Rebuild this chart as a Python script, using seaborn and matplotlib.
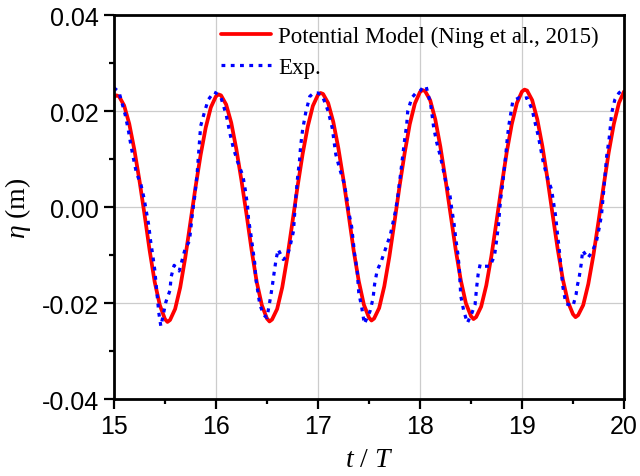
import matplotlib
matplotlib.use("Agg")
import matplotlib.pyplot as plt
from matplotlib.ticker import MultipleLocator, FormatStrFormatter
import pandas as pd
import seaborn as sns

# Potential model (red solid line)
t_model = [15.00, 15.025, 15.05, 15.10, 15.15, 15.20, 15.25, 15.30, 15.35, 15.40, 15.45,
           15.50, 15.525, 15.55, 15.60, 15.65, 15.70, 15.75, 15.80, 15.85, 15.90, 15.95,
           16.00, 16.025, 16.05, 16.10, 16.15, 16.20, 16.25, 16.30, 16.35, 16.40, 16.45,
           16.50, 16.525, 16.55, 16.60, 16.65, 16.70, 16.75, 16.80, 16.85, 16.90, 16.95,
           17.00, 17.025, 17.05, 17.10, 17.15, 17.20, 17.25, 17.30, 17.35, 17.40, 17.45,
           17.50, 17.525, 17.55, 17.60, 17.65, 17.70, 17.75, 17.80, 17.85, 17.90, 17.95,
           18.00, 18.025, 18.05, 18.10, 18.15, 18.20, 18.25, 18.30, 18.35, 18.40, 18.45,
           18.50, 18.525, 18.55, 18.60, 18.65, 18.70, 18.75, 18.80, 18.85, 18.90, 18.95,
           19.00, 19.025, 19.05, 19.10, 19.15, 19.20, 19.25, 19.30, 19.35, 19.40, 19.45,
           19.50, 19.525, 19.55, 19.60, 19.65, 19.70, 19.75, 19.80, 19.85, 19.90, 19.95,
           20.00]
eta_model = [0.0229, 0.0233, 0.0231, 0.0212, 0.0174, 0.0120, 0.0056, -0.0015, -0.0090, -0.0156, -0.0204,
             -0.0233, -0.0239, -0.0235, -0.0212, -0.0167, -0.0104, -0.0031, 0.0042, 0.0109, 0.0166, 0.0208,
             0.0231, 0.0235, 0.0233, 0.0214, 0.0176, 0.0121, 0.0056, -0.0015, -0.0090, -0.0156, -0.0204,
             -0.0232, -0.0238, -0.0234, -0.0212, -0.0167, -0.0104, -0.0031, 0.0043, 0.0111, 0.0168, 0.0211,
             0.0234, 0.0238, 0.0236, 0.0217, 0.0178, 0.0123, 0.0057, -0.0015, -0.0090, -0.0154, -0.0203,
             -0.0230, -0.0236, -0.0232, -0.0210, -0.0165, -0.0103, -0.0031, 0.0044, 0.0113, 0.0173, 0.0216,
             0.0240, 0.0244, 0.0242, 0.0223, 0.0183, 0.0126, 0.0058, -0.0015, -0.0088, -0.0152, -0.0200,
             -0.0227, -0.0233, -0.0229, -0.0207, -0.0163, -0.0102, -0.0030, 0.0044, 0.0114, 0.0173, 0.0217,
             0.0241, 0.0245, 0.0243, 0.0223, 0.0183, 0.0127, 0.0059, -0.0015, -0.0087, -0.0150, -0.0197,
             -0.0223, -0.0229, -0.0225, -0.0204, -0.0160, -0.0100, -0.0030, 0.0044, 0.0114, 0.0173, 0.0217,
             0.0241]

# Experiment (blue dotted line)
t_exp = [15.00, 15.05, 15.11, 15.14, 15.165, 15.19, 15.22, 15.265, 15.295, 15.32,
         15.34, 15.36, 15.38, 15.40, 15.42, 15.44, 15.46, 15.51, 15.55, 15.56,
         15.59, 15.64, 15.67, 15.70, 15.74, 15.77, 15.79, 15.815, 15.84, 15.85,
         15.89, 15.925, 15.98,
         16.00, 16.05, 16.10, 16.14, 16.17, 16.21, 16.265, 16.29, 16.31, 16.32,
         16.34, 16.36, 16.38, 16.39, 16.43, 16.47, 16.50, 16.53, 16.55, 16.57,
         16.59, 16.61, 16.66, 16.70, 16.73, 16.76, 16.78, 16.80, 16.82, 16.83,
         16.85, 16.88, 16.92, 16.96,
         17.00, 17.045, 17.10, 17.14, 17.175, 17.21, 17.255, 17.28, 17.30, 17.33,
         17.345, 17.36, 17.385, 17.40, 17.43, 17.455, 17.51, 17.54, 17.555, 17.58,
         17.62, 17.66, 17.71, 17.76, 17.78, 17.805, 17.83, 17.85, 17.87, 17.88,
         17.92, 17.96,
         18.00, 18.03, 18.06, 18.105, 18.135, 18.165, 18.20, 18.255, 18.295, 18.31,
         18.335, 18.35, 18.37, 18.385, 18.40, 18.43, 18.465, 18.51, 18.54, 18.555,
         18.57, 18.59, 18.63, 18.685, 18.73, 18.75, 18.77, 18.79, 18.81, 18.84,
         18.855, 18.87, 18.91, 18.97,
         19.00, 19.05, 19.10, 19.125, 19.16, 19.185, 19.21, 19.25, 19.29, 19.31,
         19.33, 19.345, 19.36, 19.375, 19.40, 19.43, 19.50, 19.53, 19.545, 19.56,
         19.58, 19.595, 19.645, 19.69, 19.73, 19.76, 19.78, 19.805, 19.83, 19.855,
         19.88, 19.91, 19.95, 19.99]
eta_exp = [0.0249, 0.0240, 0.0193, 0.0162, 0.0131, 0.0103, 0.0072, 0.0047, 0.0019, -0.0012,
           -0.0036, -0.0071, -0.0099, -0.0130, -0.0175, -0.0220, -0.0248, -0.0197, -0.0173, -0.0146,
           -0.0121, -0.0133, -0.0109, -0.0085, -0.0071, -0.0012, 0.0019, 0.0068, 0.0141, 0.0169,
           0.0200, 0.0224, 0.0240,
           0.0238, 0.0228, 0.0193, 0.0151, 0.0124, 0.0096, 0.0065, 0.0033, 0.0002, -0.0026,
           -0.0053, -0.0085, -0.0116, -0.0147, -0.0203, -0.0225, -0.0230, -0.0194, -0.0168, -0.0137,
           -0.0108, -0.0088, -0.0109, -0.0102, -0.0078, -0.0050, 0.0013, 0.0061, 0.0099, 0.0127,
           0.0162, 0.0197, 0.0231, 0.0238,
           0.0238, 0.0231, 0.0200, 0.0165, 0.0110, 0.0082, 0.0051, 0.0023, -0.0008, -0.0040,
           -0.0069, -0.0099, -0.0133, -0.0178, -0.0210, -0.0243, -0.0217, -0.0190, -0.0161, -0.0132,
           -0.0113, -0.0088, -0.0057, -0.0008, 0.0019, 0.0061, 0.0106, 0.0141, 0.0172, 0.0200,
           0.0228, 0.0238,
           0.0242, 0.0250, 0.0252, 0.0214, 0.0165, 0.0134, 0.0106, 0.0051, 0.0023, -0.0001,
           -0.0036, -0.0064, -0.0095, -0.0126, -0.0185, -0.0217, -0.0241, -0.0220, -0.0203, -0.0168,
           -0.0140, -0.0119, -0.0123, -0.0123, -0.0102, -0.0071, -0.0036, 0.0016, 0.0047, 0.0106,
           0.0141, 0.0169, 0.0221, 0.0228,
           0.0226, 0.0228, 0.0203, 0.0179, 0.0148, 0.0120, 0.0092, 0.0061, 0.0037, 0.0009,
           -0.0019, -0.0050, -0.0078, -0.0109, -0.0165, -0.0201, -0.0206, -0.0182, -0.0161, -0.0147,
           -0.0119, -0.0090, -0.0106, -0.0092, -0.0071, -0.0040, -0.0015, 0.0044, 0.0106, 0.0144,
           0.0197, 0.0224, 0.0238, 0.0245]

model_df = pd.DataFrame({"t": t_model, "eta": eta_model})
exp_df = pd.DataFrame({"t": t_exp, "eta": eta_exp})

sns.set_style("ticks")
plt.rcParams["font.family"] = ["Liberation Sans", "DejaVu Sans"]
plt.rcParams["axes.unicode_minus"] = False
plt.rcParams["mathtext.fontset"] = "custom"
plt.rcParams["mathtext.rm"] = "Liberation Serif"
plt.rcParams["mathtext.it"] = "Liberation Serif:italic"
plt.rcParams["text.color"] = "black"
plt.rcParams["axes.labelcolor"] = "black"
plt.rcParams["xtick.color"] = "black"
plt.rcParams["ytick.color"] = "black"

fig = plt.figure(figsize=(6.4, 4.77), dpi=100)
ax = fig.add_axes([0.178, 0.161, 0.797, 0.805])

sns.lineplot(data=model_df, x="t", y="eta", ax=ax, color="#ff0000", lw=2.7,
             estimator=None, label="Potential Model (Ning et al., 2015)")
sns.lineplot(data=exp_df, x="t", y="eta", ax=ax, color="#0000ff", lw=2.3,
             estimator=None, label="Exp.")
ax.lines[0].set_solid_joinstyle("round")
ax.lines[1].set_linestyle((0, (1.2, 1.7)))

ax.set_xlim(15, 20)
ax.set_ylim(-0.04, 0.04)
ax.xaxis.set_major_locator(MultipleLocator(1))
ax.xaxis.set_minor_locator(MultipleLocator(0.5))
ax.yaxis.set_major_locator(MultipleLocator(0.02))
ax.yaxis.set_minor_locator(MultipleLocator(0.01))
ax.yaxis.set_major_formatter(FormatStrFormatter("%.2f"))
ax.grid(True, which="major", color="#cccccc", lw=0.9)

ax.tick_params(which="major", direction="out", length=7, width=1.6, labelsize=18, pad=4,
               colors="black")
ax.tick_params(which="minor", direction="out", length=3.5, width=1.6, colors="black")
for s in ax.spines.values():
    s.set_linewidth(2)
    s.set_color("black")

serif = ["Liberation Serif", "DejaVu Serif"]
ax.set_xlabel(r"$t$ / $T$", fontsize=20, family=serif, labelpad=6)
ax.set_ylabel(r"$\eta$ (m)", fontsize=20, family=serif, labelpad=6)

leg = ax.legend(loc="upper left", bbox_to_anchor=(0.2, 0.985), frameon=False,
                prop={"family": serif, "size": 16.5}, handlelength=2.2,
                handletextpad=0.3, labelspacing=0.45, borderpad=0.2, borderaxespad=0)

fig.savefig("out.png", dpi=100)
